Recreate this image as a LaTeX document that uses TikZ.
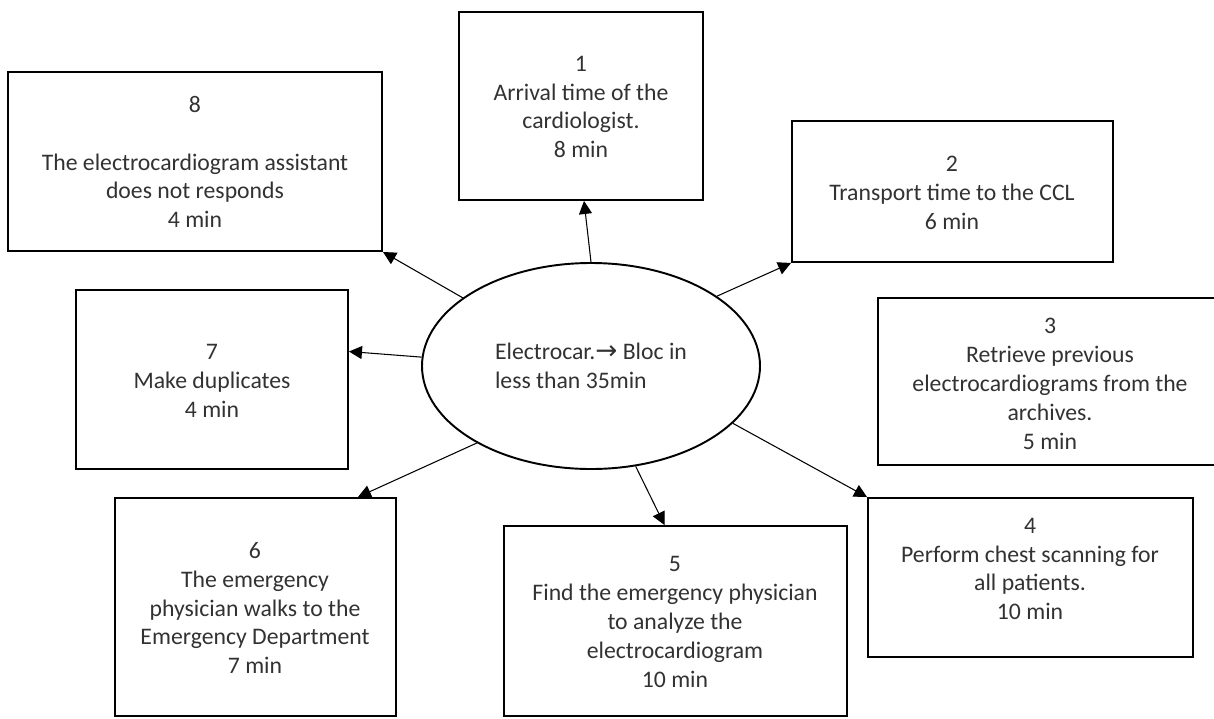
\documentclass[tikz,border=0pt]{standalone}
\usepackage{fontspec}
\setmainfont{Carlito}
\newfontfamily\arrowfont{DejaVu Sans}
\definecolor{ecgText}{RGB}{50,50,50}
\usetikzlibrary{arrows.meta,positioning,shapes.geometric,calc}

\begin{document}
\begin{tikzpicture}[x=0.2mm, y=-0.2mm,
  box/.style={draw, line width=1.1pt, inner sep=0pt},
  txt/.style={align=center, text=ecgText, inner sep=0pt,
              font=\fontsize{13.5pt}{16.4pt}\selectfont},
  hub/.style={draw, ellipse, line width=1.1pt, inner sep=0pt, align=left,
              text=ecgText, font=\fontsize{13.5pt}{16.4pt}\selectfont},
  arr/.style={-{Triangle[length=2.6mm, width=2.6mm]}, line width=0.6pt}
]
  \clip (0,0) rectangle (1214,718);

  % centre
  \node[hub, minimum width=67.6mm, minimum height=41.2mm] (ell) at (591,366)
    {Electrocar.{\arrowfont\fontsize{15pt}{16pt}\selectfont →} Bloc in\\less than 35min};

  % boxes
  \node[box, minimum width=48.8mm, minimum height=37.6mm] (b1) at (581,106) {};
  \node[txt] (t1) at (581,107) {1\\Arrival time of the\\cardiologist.\\8 min};

  \node[box, minimum width=64.2mm, minimum height=28.2mm] (b2) at (952.5,191.5) {};
  \node[txt] (t2) at (952,193) {2\\Transport time to the CCL\\6 min};

  \node[box, minimum width=68.8mm, minimum height=33.4mm] (b3) at (1050,381.5) {};
  \node[txt] (t3) at (1050,384) {3\\Retrieve previous\\electrocardiograms from the\\archives.\\5 min};

  \node[box, minimum width=65mm, minimum height=31.8mm] (b4) at (1030.5,577.5) {};
  \node[txt] (t4) at (1030,569) {4\\Perform chest scanning for\\all patients.\\10 min};

  \node[box, minimum width=68.6mm, minimum height=38mm] (b5) at (675.5,621) {};
  \node[txt] (t5) at (675,622) {5\\Find the emergency physician\\to analyze the\\electrocardiogram\\10 min};

  \node[box, minimum width=56.2mm, minimum height=43.6mm] (b6) at (255.5,607) {};
  \node[txt] (t6) at (255,608) {6\\The emergency\\physician walks to the\\Emergency Department\\7 min};

  \node[box, minimum width=54.4mm, minimum height=35.8mm] (b7) at (212,379.5) {};
  \node[txt] (t7) at (212,381) {7\\Make duplicates\\4 min};

  \node[box, minimum width=74.8mm, minimum height=35.8mm] (b8) at (195,161.5) {};
  \node[txt] (t8) at (195,162) {8\\[16.4pt]The electrocardiogram assistant\\does not responds\\4 min};

  % arrows
  \draw[arr] (ell.north) -- ($(b1.south)+(3,0)$);
  \draw[arr] (ell.29) -- (b2.south west);
  \draw[arr] (ell.338) -- (b4.north west);
  \draw[arr] (ell.294) -- ($(b5.north)+(-11,0)$);
  \draw[arr] (ell.214.5) -- ($(b6.north east)+(-39,0)$);
  \draw[arr] (ell.177.3) -- ($(b7.east)+(0,-28)$);
  \draw[arr] (ell.152.6) -- (b8.south east);
\end{tikzpicture}
\end{document}
